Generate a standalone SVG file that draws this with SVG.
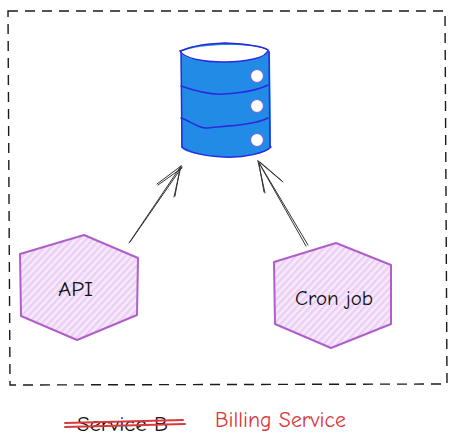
<svg xmlns="http://www.w3.org/2000/svg" width="456" height="447" viewBox="0 0 456 447">
<style>
.hex{fill:url(#hatch);stroke:#ae5fc9;stroke-width:2;stroke-linejoin:round}
.t{font-family:"Comic Neue","Lato","Noto Sans",sans-serif;font-size:20px;fill:#111}
.conn{fill:none;stroke:#333;stroke-width:1;stroke-linecap:round}
.db{fill:none;stroke:#2a2ae0;stroke-width:1.5;stroke-linecap:round}
.hole{fill:#fff;stroke:#6a6ae8;stroke-width:1.2}
.red{fill:none;stroke:#d9383c;stroke-width:1.9;stroke-linecap:round}
</style>
<defs>
<pattern id="hatch" width="5" height="5" patternUnits="userSpaceOnUse" patternTransform="rotate(-47)">
<rect width="5" height="5" fill="#f7ebfb"/>
<rect width="5" height="2.5" fill="#ebcff5"/>
</pattern>
</defs>
<rect width="456" height="447" fill="#fff"/>
<g id="frame"><path d="M8 11 L445 11 L447 384 L10 385 Z" fill="none" stroke="#1a1a1a" stroke-width="1.4" stroke-dasharray="10 7"/></g>
<g id="database">
<path d="M181 52 C181 47 205 43 225 43 C250 44 269 46 270 52 L271 147 C268 153 245 158 224 157 C205 156 183 153 181 147 Z" fill="#228be6"/>
<path d="M181 52 C195 44 250 42 268 50 C268 58 245 62 224 62 C205 62 182 59 181 52 Z" fill="#fff"/>
<path class="db" d="M180 51 C196 45 205 44 225 43 C245 44 262 46 268 50 C267 58 245 62 224 62 C205 62 184 59 180 51 Z"/>
<path class="db" d="M181 52 L182 147 C190 153 205 156 224 157 C245 158 265 153 271 147 M269 52 L270 147"/>
<path class="db" d="M181 86 C195 91 210 95 224 94 C240 93 258 90 268 85"/>
<path class="db" d="M181 118 C190 121 197 127 205 128 C225 126 255 125 268 118"/>
<circle class="hole" cx="257" cy="76" r="6.5"/><circle class="hole" cx="257" cy="106" r="6.5"/><circle class="hole" cx="257" cy="140" r="6.5"/>
</g>
<g id="api">
<path class="hex" d="M20 254 L84 235 L138 258 L137 315 L77 340 L21 316 Z"/>
<text class="t" x="58" y="296" textLength="35" lengthAdjust="spacingAndGlyphs">API</text>
</g>
<g id="cron">
<path class="hex" d="M274 262 L336 243 L391 265 L391 324 L331 348 L275 324 Z"/>
<text class="t" x="295" y="305" textLength="78" lengthAdjust="spacingAndGlyphs">Cron job</text>
</g>
<g id="connectors">
<path class="conn" d="M129 243 L181 166 M130 242 L182 167 M157 184 L181 166 M158 185 L182 168 M174 197 L181 166 M175 196 L180 168"/>
<path class="conn" d="M308 245 L258 161 M306 246 L259 163 M283 182 L258 161 M282 181 L260 162 M265 193 L258 161 M264 192 L259 164"/>
</g>
<g id="legend">
<text class="t" x="77" y="431" textLength="91" lengthAdjust="spacingAndGlyphs" style="font-size:21px">Service B</text>
<path class="red" d="M65 423 L183 420 M65 427 L185 424"/>
<text class="t" x="215" y="427" textLength="131" lengthAdjust="spacingAndGlyphs" style="fill:#d9383c;font-size:22px">Billing Service</text>
</g>
</svg>
